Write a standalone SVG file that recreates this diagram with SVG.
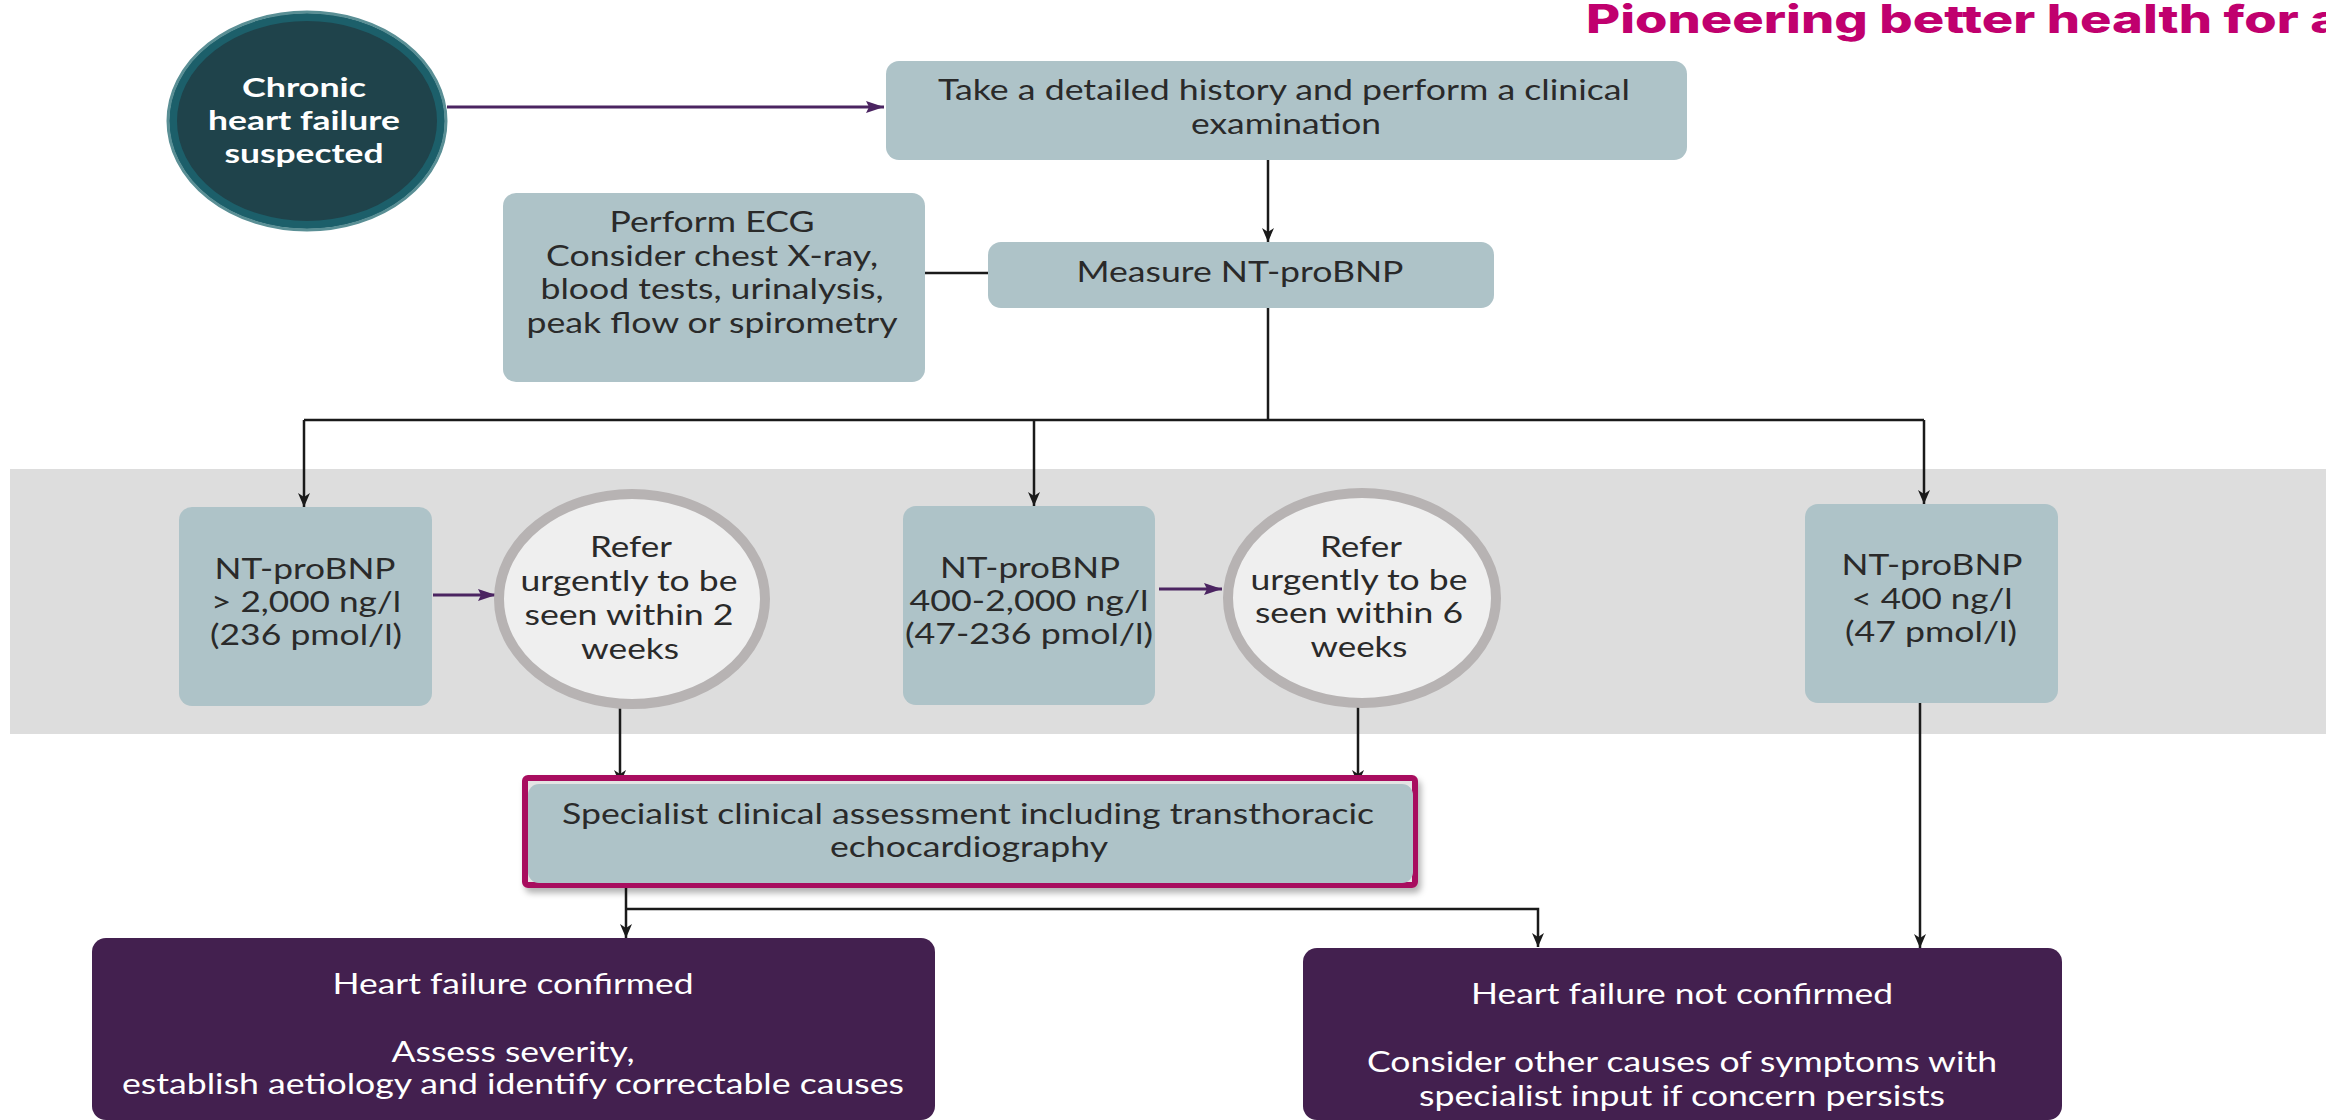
<svg xmlns="http://www.w3.org/2000/svg" width="2326" height="1120" viewBox="0 0 2326 1120">
<style>
.box{fill:#aec3c8}
.t{font-family:Lato,"Liberation Sans",sans-serif;font-size:28px;fill:#2a2a2a;text-anchor:middle}
.w{font-family:Lato,"Liberation Sans",sans-serif;font-size:28px;fill:#ffffff;text-anchor:middle}
.wb{font-family:Lato,"Liberation Sans",sans-serif;font-size:27px;font-weight:bold;fill:#ffffff;text-anchor:middle}
.dark{fill:#43204f}
.ring{fill:#efefef;stroke:#b7b3b3;stroke-width:10}
.ln{fill:none;stroke:#1a1a1a;stroke-width:2.5}
.pl{fill:none;stroke:#4b2461;stroke-width:3}
</style>
<defs>
<marker id="ab" viewBox="0 0 14 12" refX="14" refY="6" markerWidth="14" markerHeight="12" markerUnits="userSpaceOnUse" orient="auto">
<path d="M0,0 L14,6 L0,12 L4,6 z" fill="#1a1a1a"/>
</marker>
<marker id="ap" viewBox="0 0 18 12" refX="18" refY="6" markerWidth="18" markerHeight="12" markerUnits="userSpaceOnUse" orient="auto">
<path d="M0,0 L18,6 L0,12 L3,6 z" fill="#4b2461"/>
</marker>
<filter id="sh" x="-5%" y="-20%" width="110%" height="150%">
<feDropShadow dx="3" dy="5" stdDeviation="3" flood-color="#000" flood-opacity="0.3"/>
</filter>
</defs>

<text x="1586" y="33" font-family="Inter,'Noto Sans',sans-serif" font-size="39" font-weight="800" fill="#c0006e" textLength="755" lengthAdjust="spacingAndGlyphs">Pioneering better health for a</text>

<rect id="band" x="10" y="469" width="2316" height="265" fill="#dddddd"/>

<g id="connectors">
<line class="pl" x1="447" y1="107" x2="884" y2="107" marker-end="url(#ap)"/>
<line class="ln" x1="1268" y1="160" x2="1268" y2="242" marker-end="url(#ab)"/>
<line class="ln" x1="925" y1="273" x2="988" y2="273"/>
<polyline class="ln" points="1268,308 1268,420"/>
<line class="ln" x1="304" y1="420" x2="1924" y2="420"/>
<line class="ln" x1="304" y1="420" x2="304" y2="507" marker-end="url(#ab)"/>
<line class="ln" x1="1034" y1="420" x2="1034" y2="506" marker-end="url(#ab)"/>
<line class="ln" x1="1924" y1="420" x2="1924" y2="504" marker-end="url(#ab)"/>
<line class="pl" x1="433" y1="595" x2="496" y2="595" marker-end="url(#ap)"/>
<line class="pl" x1="1159" y1="589" x2="1222" y2="589" marker-end="url(#ap)"/>
<line class="ln" x1="620" y1="708" x2="620" y2="784" marker-end="url(#ab)"/>
<line class="ln" x1="1358" y1="707" x2="1358" y2="784" marker-end="url(#ab)"/>
<line class="ln" x1="1920" y1="703" x2="1920" y2="948" marker-end="url(#ab)"/>
<line class="ln" x1="626" y1="888" x2="626" y2="938" marker-end="url(#ab)"/>
<polyline class="ln" points="626,909 1538,909 1538,947" marker-end="url(#ab)"/>
</g>

<g id="start">
<ellipse cx="307" cy="121" rx="134" ry="104" fill="#1f434b" stroke="#1c5f6a" stroke-width="8"/>
<ellipse cx="307" cy="121" rx="139" ry="109" fill="none" stroke="#5a8f95" stroke-width="3"/>
<text class="wb" x="304" y="97" textLength="124" lengthAdjust="spacingAndGlyphs">Chronic</text>
<text class="wb" x="304" y="130" textLength="192" lengthAdjust="spacingAndGlyphs">heart failure</text>
<text class="wb" x="304" y="163" textLength="159" lengthAdjust="spacingAndGlyphs">suspected</text>
</g>

<g id="history">
<rect class="box" x="886" y="61" width="801" height="99" rx="13"/>
<text class="t" x="1284" y="100" textLength="692" lengthAdjust="spacingAndGlyphs">Take a detailed history and perform a clinical</text>
<text class="t" x="1286" y="134" textLength="190" lengthAdjust="spacingAndGlyphs">examination</text>
</g>

<g id="ecg">
<rect class="box" x="503" y="193" width="422" height="189" rx="13"/>
<text class="t" x="712" y="232" textLength="205" lengthAdjust="spacingAndGlyphs">Perform ECG</text>
<text class="t" x="712" y="266" textLength="332" lengthAdjust="spacingAndGlyphs">Consider chest X-ray,</text>
<text class="t" x="712" y="299" textLength="343" lengthAdjust="spacingAndGlyphs">blood tests, urinalysis,</text>
<text class="t" x="712" y="333" textLength="371" lengthAdjust="spacingAndGlyphs">peak flow or spirometry</text>
</g>

<g id="measure">
<rect class="box" x="988" y="242" width="506" height="66" rx="13"/>
<text class="t" x="1240" y="282" textLength="327" lengthAdjust="spacingAndGlyphs">Measure NT-proBNP</text>
</g>

<g id="high">
<rect class="box" x="179" y="507" width="253" height="199" rx="13"/>
<text class="t" x="305" y="579" textLength="181" lengthAdjust="spacingAndGlyphs">NT-proBNP</text>
<text class="t" x="306" y="612" textLength="190" lengthAdjust="spacingAndGlyphs">&gt; 2,000 ng/l</text>
<text class="t" x="306" y="645" textLength="192" lengthAdjust="spacingAndGlyphs">(236 pmol/l)</text>
</g>

<g id="refer2">
<ellipse class="ring" cx="632" cy="599" rx="133" ry="105"/>
<text class="t" x="631" y="557" textLength="82" lengthAdjust="spacingAndGlyphs">Refer</text>
<text class="t" x="629" y="591" textLength="217" lengthAdjust="spacingAndGlyphs">urgently to be</text>
<text class="t" x="629" y="625" textLength="209" lengthAdjust="spacingAndGlyphs">seen within 2</text>
<text class="t" x="630" y="659" textLength="98" lengthAdjust="spacingAndGlyphs">weeks</text>
</g>

<g id="mid">
<rect class="box" x="903" y="506" width="252" height="199" rx="13"/>
<text class="t" x="1030" y="578" textLength="180" lengthAdjust="spacingAndGlyphs">NT-proBNP</text>
<text class="t" x="1029" y="611" textLength="239" lengthAdjust="spacingAndGlyphs">400-2,000 ng/l</text>
<text class="t" x="1029" y="644" textLength="248" lengthAdjust="spacingAndGlyphs">(47-236 pmol/l)</text>
</g>

<g id="refer6">
<ellipse class="ring" cx="1362" cy="598" rx="134" ry="105"/>
<text class="t" x="1361" y="557" textLength="82" lengthAdjust="spacingAndGlyphs">Refer</text>
<text class="t" x="1359" y="590" textLength="217" lengthAdjust="spacingAndGlyphs">urgently to be</text>
<text class="t" x="1359" y="623" textLength="208" lengthAdjust="spacingAndGlyphs">seen within 6</text>
<text class="t" x="1359" y="657" textLength="97" lengthAdjust="spacingAndGlyphs">weeks</text>
</g>

<g id="low">
<rect class="box" x="1805" y="504" width="253" height="199" rx="13"/>
<text class="t" x="1932" y="575" textLength="181" lengthAdjust="spacingAndGlyphs">NT-proBNP</text>
<text class="t" x="1932" y="609" textLength="161" lengthAdjust="spacingAndGlyphs">&lt; 400 ng/l</text>
<text class="t" x="1931" y="642" textLength="172" lengthAdjust="spacingAndGlyphs">(47 pmol/l)</text>
</g>

<g id="specialist">
<rect x="525" y="778" width="890" height="107" rx="3" fill="#e4e4e4" stroke="#a8105e" stroke-width="6" filter="url(#sh)"/>
<rect class="box" x="528" y="784" width="885" height="99" rx="11"/>
<text class="t" x="968" y="824" textLength="812" lengthAdjust="spacingAndGlyphs">Specialist clinical assessment including transthoracic</text>
<text class="t" x="969" y="857" textLength="278" lengthAdjust="spacingAndGlyphs">echocardiography</text>
</g>

<g id="confirmed">
<rect class="dark" x="92" y="938" width="843" height="182" rx="14"/>
<text class="w" x="513" y="994" textLength="361" lengthAdjust="spacingAndGlyphs">Heart failure confirmed</text>
<text class="w" x="513" y="1062" textLength="243" lengthAdjust="spacingAndGlyphs">Assess severity,</text>
<text class="w" x="513" y="1094" textLength="782" lengthAdjust="spacingAndGlyphs">establish aetiology and identify correctable causes</text>
</g>

<g id="notconfirmed">
<rect class="dark" x="1303" y="948" width="759" height="172" rx="14"/>
<text class="w" x="1682" y="1004" textLength="422" lengthAdjust="spacingAndGlyphs">Heart failure not confirmed</text>
<text class="w" x="1682" y="1072" textLength="630" lengthAdjust="spacingAndGlyphs">Consider other causes of symptoms with</text>
<text class="w" x="1682" y="1106" textLength="526" lengthAdjust="spacingAndGlyphs">specialist input if concern persists</text>
</g>
</svg>
